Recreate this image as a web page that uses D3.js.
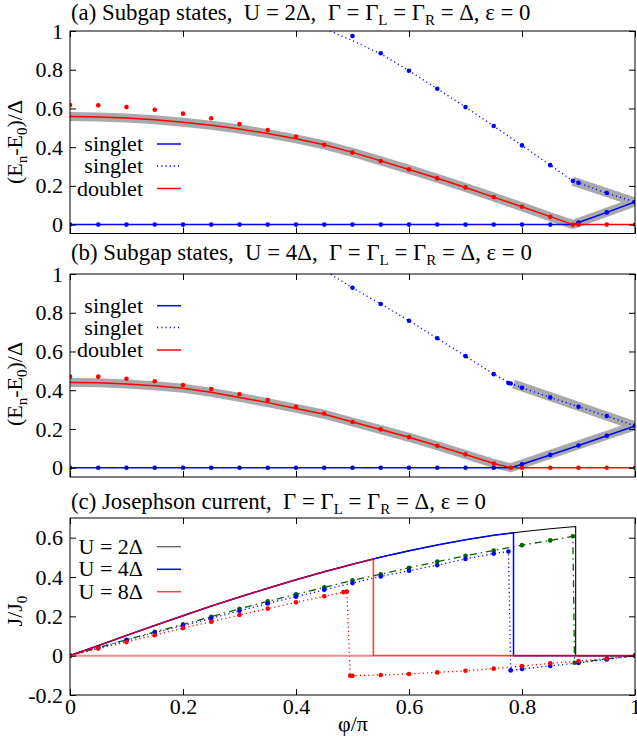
<!DOCTYPE html>
<html>
<head>
<meta charset="utf-8">
<script src="https://cdn.jsdelivr.net/npm/d3@7"></script>
<style>
  body { margin: 0; background: #fff; }
  svg { display: block; }
  text { font-family: "Liberation Serif", "Times New Roman", serif; fill: #000; }
</style>
</head>
<body>
<svg id="chart" width="637" height="748"></svg>
<script>
// ---------- shared axis values ----------
const phiTicks = [0, 0.2, 0.4, 0.6, 0.8, 1];
const energyTicks = [0, 0.2, 0.4, 0.6, 0.8, 1];
const currentTicks = [-0.2, 0, 0.2, 0.4, 0.6];

// ---------- (a) U = 2Δ ----------
const a_doublet_line_phi = [0,0.05,0.1,0.15,0.2,0.25,0.3,0.35,0.4,0.45,0.5,0.55,0.6,0.65,0.7,0.75,0.8,0.85,0.89,1];
const a_doublet_line_E   = [0.558,0.556,0.55,0.541,0.529,0.513,0.494,0.47,0.443,0.412,0.373,0.329,0.285,0.239,0.192,0.142,0.092,0.041,0,0];
const a_doublet_pts_phi  = [0,0.05,0.1,0.15,0.2,0.25,0.3,0.35,0.4,0.45,0.5,0.55,0.6,0.65,0.7,0.75,0.8,0.85,0.89,0.9,0.95,1];
const a_doublet_pts_E    = [0.618,0.616,0.607,0.593,0.573,0.549,0.519,0.488,0.454,0.412,0.373,0.328,0.285,0.239,0.192,0.142,0.092,0.04,0,0,0,0];
const a_singlet_line_phi = [0,0.89,0.9,0.95,1];
const a_singlet_line_E   = [0,0,0.011,0.063,0.117];
const a_singlet_pts_phi  = [0,0.05,0.1,0.15,0.2,0.25,0.3,0.35,0.4,0.45,0.5,0.55,0.6,0.65,0.7,0.75,0.8,0.85,0.9,0.95,1];
const a_singlet_pts_E    = [0,0,0,0,0,0,0,0,0,0,0,0,0,0,0,0,0,0,0.011,0.063,0.116];
const a_excited_line_phi = [0.46,0.5,0.55,0.6,0.65,0.7,0.75,0.8,0.85,0.89,0.95,1];
const a_excited_line_E   = [1.0,0.95,0.882,0.795,0.702,0.607,0.509,0.409,0.307,0.226,0.163,0.117];
const a_excited_pts_phi  = [0.5,0.55,0.6,0.65,0.7,0.75,0.8,0.85,0.89,0.9,0.95,1];
const a_excited_pts_E    = [0.974,0.885,0.795,0.702,0.607,0.509,0.409,0.307,0.226,0.216,0.163,0.116];
const a_band_low_phi     = [0,0.05,0.1,0.15,0.2,0.25,0.3,0.35,0.4,0.45,0.5,0.55,0.6,0.65,0.7,0.75,0.8,0.85,0.89,1];
const a_band_low_E       = [0.558,0.556,0.55,0.541,0.529,0.513,0.494,0.47,0.443,0.412,0.373,0.329,0.285,0.239,0.192,0.142,0.092,0.041,0,0.117];
const a_band_high_phi    = [0.89,1];
const a_band_high_E      = [0.224,0.117];

// ---------- (b) U = 4Δ ----------
const b_doublet_line_phi = [0,0.05,0.1,0.15,0.2,0.25,0.3,0.35,0.4,0.45,0.5,0.55,0.6,0.65,0.7,0.75,0.78,1];
const b_doublet_line_E   = [0.44,0.438,0.432,0.423,0.41,0.389,0.363,0.336,0.306,0.276,0.236,0.197,0.157,0.113,0.068,0.022,0,0];
const b_doublet_pts_phi  = [0,0.05,0.1,0.15,0.2,0.25,0.3,0.35,0.4,0.45,0.5,0.55,0.6,0.65,0.7,0.75,0.78,0.8,0.85,0.9,0.95,1];
const b_doublet_pts_E    = [0.47,0.47,0.459,0.446,0.427,0.406,0.379,0.349,0.315,0.28,0.236,0.198,0.158,0.113,0.069,0.022,0,0,0,0,0,0];
const b_singlet_line_phi = [0,0.78,0.8,0.85,0.9,0.95,1];
const b_singlet_line_E   = [0,0,0.018,0.066,0.115,0.165,0.216];
const b_singlet_pts_phi  = [0,0.05,0.1,0.15,0.2,0.25,0.3,0.35,0.4,0.45,0.5,0.55,0.6,0.65,0.7,0.75,0.8,0.85,0.9,0.95,1];
const b_singlet_pts_E    = [0,0,0,0,0,0,0,0,0,0,0,0,0,0,0,0,0.018,0.066,0.115,0.165,0.216];
const b_excited_line_phi = [0.455,0.5,0.55,0.6,0.65,0.7,0.75,0.78,0.8,0.85,0.9,0.95,1];
const b_excited_line_E   = [1.01,0.929,0.845,0.759,0.668,0.576,0.483,0.435,0.413,0.363,0.315,0.267,0.216];
const b_excited_pts_phi  = [0.5,0.55,0.6,0.65,0.7,0.75,0.776,0.78,0.8,0.85,0.9,0.95,1];
const b_excited_pts_E    = [0.929,0.845,0.759,0.668,0.576,0.483,0.437,0.435,0.413,0.363,0.315,0.267,0.216];
const b_band_low_phi     = [0,0.05,0.1,0.15,0.2,0.25,0.3,0.35,0.4,0.45,0.5,0.55,0.6,0.65,0.7,0.75,0.78,1];
const b_band_low_E       = [0.44,0.438,0.432,0.423,0.41,0.389,0.363,0.336,0.306,0.276,0.236,0.197,0.157,0.113,0.068,0.022,0,0.216];
const b_band_high_phi    = [0.785,1];
const b_band_high_E      = [0.432,0.216];

// ---------- (c) Josephson current ----------
// ground-state current, one curve per U, dropping to zero past the transition
const c_U2_phi = [0,0.05,0.1,0.15,0.2,0.25,0.3,0.35,0.4,0.45,0.5,0.55,0.6,0.65,0.7,0.75,0.8,0.85,0.895,0.895,1];
const c_U2_J   = [0,0.051,0.103,0.153,0.203,0.252,0.298,0.343,0.386,0.427,0.465,0.501,0.533,0.563,0.589,0.612,0.63,0.645,0.657,0,0];
const c_U4_phi = [0,0.05,0.1,0.15,0.2,0.25,0.3,0.35,0.4,0.45,0.5,0.55,0.6,0.65,0.7,0.75,0.785,0.785,1];
const c_U4_J   = [0,0.051,0.103,0.153,0.203,0.252,0.298,0.343,0.386,0.427,0.465,0.501,0.533,0.563,0.589,0.612,0.625,0,0];
const c_U8_phi = [0,0.05,0.1,0.15,0.2,0.25,0.3,0.35,0.4,0.45,0.5,0.537,0.537,1];
const c_U8_J   = [0,0.051,0.103,0.153,0.203,0.252,0.298,0.343,0.386,0.427,0.465,0.492,0,0];
const c_U8_zero_phi = [0,0.537];
const c_U8_zero_J   = [0,0];
// numerical points, one series per U
const c_U2_pts_phi = [0,0.05,0.1,0.15,0.2,0.25,0.3,0.35,0.4,0.45,0.5,0.55,0.6,0.65,0.7,0.75,0.8,0.85,0.89,0.893,0.9,0.95,1];
const c_U2_pts_J   = [0,0.041,0.081,0.121,0.159,0.198,0.238,0.276,0.312,0.347,0.383,0.414,0.447,0.478,0.508,0.535,0.562,0.586,0.607,-0.036,-0.034,-0.017,0];
const c_U4_pts_phi = [0,0.05,0.1,0.15,0.2,0.25,0.3,0.35,0.4,0.45,0.5,0.55,0.6,0.65,0.7,0.75,0.776,0.78,0.8,0.85,0.9,0.95,1];
const c_U4_pts_J   = [0,0.04,0.079,0.117,0.153,0.19,0.228,0.265,0.3,0.335,0.369,0.403,0.432,0.46,0.492,0.519,0.53,-0.075,-0.068,-0.052,-0.037,-0.019,0];
const c_U8_pts_phi = [0,0.05,0.1,0.15,0.2,0.25,0.3,0.35,0.4,0.45,0.484,0.49,0.496,0.5,0.55,0.6,0.65,0.7,0.75,0.8,0.85,0.9,0.95,1];
const c_U8_pts_J   = [0,0.036,0.069,0.104,0.14,0.173,0.207,0.239,0.271,0.302,0.323,0.326,-0.102,-0.102,-0.098,-0.093,-0.085,-0.077,-0.066,-0.053,-0.039,-0.027,-0.014,0];

// ---------- styling ----------
const BLUE = "#0000ff", RED = "#ff0000", GREEN = "#006400", BAND = "#a9a9a9";
const FONT = 22, TITLE_FONT = 22.8, SUB = 15;

const svg = d3.select("#chart");
const x = d3.scaleLinear().domain([0, 1]).range([70, 635]);
const zip = (a, b) => a.map((v, i) => [v, b[i]]);
const fmt = d => String(d);

function richText(parent, xPos, yPos, parts, size) {
  const t = parent.append("text").attr("x", xPos).attr("y", yPos)
    .attr("font-size", size || FONT).style("white-space", "pre");
  let lowered = false;
  parts.forEach(p => {
    if (typeof p === "string") {
      const s = t.append("tspan").text(p);
      if (lowered) { s.attr("dy", -5); lowered = false; }
    } else {
      t.append("tspan").text(p.sub).attr("font-size", SUB).attr("dy", 5);
      lowered = true;
    }
  });
  return t;
}

function panel(opts) {
  const y = d3.scaleLinear().domain(opts.yDomain).range([opts.bottom, opts.top]);
  const g = svg.append("g");
  const id = "clip" + opts.key;
  svg.append("defs").append("clipPath").attr("id", id)
    .append("rect").attr("x", 70).attr("y", opts.top).attr("width", 565).attr("height", opts.bottom - opts.top);

  const plot = g.append("g").attr("clip-path", `url(#${id})`);
  const line = d3.line().x(d => x(d[0])).y(d => y(d[1]));

  // axes with inward ticks on all four sides
  const left = g.append("g").attr("transform", "translate(70,0)")
    .call(d3.axisLeft(y).tickValues(opts.yTicks).tickSize(-6).tickPadding(7).tickFormat(fmt));
  const right = g.append("g").attr("transform", "translate(635,0)")
    .call(d3.axisRight(y).tickValues(opts.yTicks).tickSize(-6).tickFormat(""));
  const top = g.append("g").attr("transform", `translate(0,${opts.top})`)
    .call(d3.axisTop(x).tickValues(phiTicks).tickSize(-6).tickFormat(""));
  const bottom = g.append("g").attr("transform", `translate(0,${opts.bottom})`)
    .call(d3.axisBottom(x).tickValues(phiTicks).tickSize(-6).tickPadding(3)
      .tickFormat(opts.xLabels ? fmt : ""));
  [left, right, top, bottom].forEach(a => {
    a.select(".domain").remove();
    a.attr("font-family", null).attr("font-size", null);
    a.selectAll("text").attr("font-size", FONT);
    a.selectAll("line").attr("stroke", "#000");
  });

  g.append("rect").attr("x", 70).attr("y", opts.top).attr("width", 565)
    .attr("height", opts.bottom - opts.top).attr("fill", "none").attr("stroke", "#000").attr("stroke-width", 1);

  // title
  richText(g, 71, opts.titleY, opts.title, TITLE_FONT);

  // y label
  const yl = g.append("g").attr("transform", `translate(22,${opts.yLabelY}) rotate(-90)`);
  richText(yl, 0, 0, opts.yLabel).attr("text-anchor", "middle");

  return { y, plot, line, g };
}

function drawLine(P, phi, vals, color, width, dash, opacity) {
  P.plot.append("path").datum(zip(phi, vals)).attr("d", P.line)
    .attr("fill", "none").attr("stroke", color).attr("stroke-width", width)
    .attr("stroke-dasharray", dash || null).attr("stroke-linejoin", "round")
    .attr("stroke-opacity", opacity == null ? 1 : opacity);
}
function drawDots(P, phi, vals, color) {
  P.plot.selectAll(null).data(zip(phi, vals)).enter().append("circle")
    .attr("cx", d => x(d[0])).attr("cy", d => P.y(d[1])).attr("r", 2.3).attr("fill", color);
}
function legend(P, rows, textX, anchor) {
  rows.forEach(r => {
    P.g.append("text").attr("x", textX).attr("y", r.y + 7).attr("font-size", FONT)
      .attr("text-anchor", anchor).text(r.label);
    P.g.append("line").attr("x1", 157).attr("x2", 181).attr("y1", r.y).attr("y2", r.y)
      .attr("stroke", r.color).attr("stroke-width", r.width || 1.5)
      .attr("stroke-dasharray", r.dash || null);
  });
}

const energyLabel = ["(E", {sub: "n"}, "-E", {sub: "0"}, ")/Δ"];
const DOT = "1.2,3";

// ---------- panel (a) ----------
const A = panel({
  key: "a", top: 31, bottom: 233.5, yDomain: [-0.046, 1], yTicks: energyTicks,
  titleY: 19.5, yLabelY: 142, xLabels: false, yLabel: energyLabel,
  title: ["(a) Subgap states,  U = 2Δ,  Γ = Γ", {sub: "L"}, " = Γ", {sub: "R"}, " = Δ, ε = 0"]
});
drawLine(A, a_band_low_phi, a_band_low_E, BAND, 9);
drawLine(A, a_band_high_phi, a_band_high_E, BAND, 9);
drawLine(A, a_singlet_line_phi, a_singlet_line_E, BLUE, 1.5);
drawLine(A, a_excited_line_phi, a_excited_line_E, BLUE, 1.3, DOT);
drawLine(A, a_doublet_line_phi, a_doublet_line_E, RED, 1.5);
drawDots(A, a_singlet_pts_phi, a_singlet_pts_E, BLUE);
drawDots(A, a_excited_pts_phi, a_excited_pts_E, BLUE);
drawDots(A, a_doublet_pts_phi, a_doublet_pts_E, RED);
legend(A, [
  {label: "singlet", y: 144, color: BLUE},
  {label: "singlet", y: 166, color: BLUE, dash: DOT},
  {label: "doublet", y: 188.5, color: RED}
], 143, "end");

// ---------- panel (b) ----------
const B = panel({
  key: "b", top: 274, bottom: 477, yDomain: [-0.048, 1], yTicks: energyTicks,
  titleY: 260, yLabelY: 384, xLabels: false, yLabel: energyLabel,
  title: ["(b) Subgap states,  U = 4Δ,  Γ = Γ", {sub: "L"}, " = Γ", {sub: "R"}, " = Δ, ε = 0"]
});
drawLine(B, b_band_low_phi, b_band_low_E, BAND, 9);
drawLine(B, b_band_high_phi, b_band_high_E, BAND, 9);
drawLine(B, b_singlet_line_phi, b_singlet_line_E, BLUE, 1.5);
drawLine(B, b_excited_line_phi, b_excited_line_E, BLUE, 1.3, DOT);
drawLine(B, b_doublet_line_phi, b_doublet_line_E, RED, 1.5);
drawDots(B, b_singlet_pts_phi, b_singlet_pts_E, BLUE);
drawDots(B, b_excited_pts_phi, b_excited_pts_E, BLUE);
drawDots(B, b_doublet_pts_phi, b_doublet_pts_E, RED);
legend(B, [
  {label: "singlet", y: 305.7, color: BLUE},
  {label: "singlet", y: 327.5, color: BLUE, dash: DOT},
  {label: "doublet", y: 350, color: RED}
], 143, "end");

// ---------- panel (c) ----------
const C = panel({
  key: "c", top: 518, bottom: 695, yDomain: [-0.2, 0.7], yTicks: currentTicks,
  titleY: 509, yLabelY: 611, xLabels: true, yLabel: ["J/J", {sub: "0"}],
  title: ["(c) Josephson current,  Γ = Γ", {sub: "L"}, " = Γ", {sub: "R"}, " = Δ, ε = 0"]
});
drawLine(C, c_U2_pts_phi, c_U2_pts_J, GREEN, 1.3, "7,4,1.5,4");
drawLine(C, c_U4_pts_phi, c_U4_pts_J, BLUE, 1.3, DOT);
drawLine(C, c_U8_pts_phi, c_U8_pts_J, RED, 1.3, DOT);
drawDots(C, c_U2_pts_phi, c_U2_pts_J, GREEN);
drawDots(C, c_U4_pts_phi, c_U4_pts_J, BLUE);
drawDots(C, c_U8_pts_phi, c_U8_pts_J, RED);
drawLine(C, c_U2_phi, c_U2_J, "#000", 1.1);
drawLine(C, c_U4_phi, c_U4_J, BLUE, 1.5);
drawLine(C, c_U8_zero_phi, c_U8_zero_J, "#f08a8a", 2);
drawLine(C, c_U8_phi, c_U8_J, RED, 1.6, null, 0.75);
legend(C, [
  {label: "U = 2Δ", y: 546.7, color: "#606060", width: 1.3},
  {label: "U = 4Δ", y: 569.3, color: BLUE},
  {label: "U = 8Δ", y: 591.7, color: "#ff4040"}
], 143, "end");

// x axis title
svg.append("text").attr("x", 353).attr("y", 731).attr("font-size", FONT)
  .attr("text-anchor", "middle").text("φ/π");
</script>
</body>
</html>
